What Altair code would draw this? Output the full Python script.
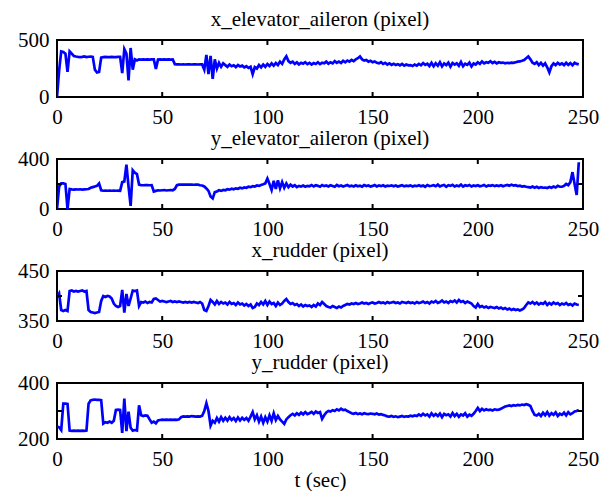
import altair as alt
import pandas as pd

# time axis (seconds)
T = list(range(249))

X_ELEV = [
    0, 230, 400, 395, 380, 220, 400, 380, 360, 355,
    352, 350, 352, 356, 350, 353, 355, 352, 240, 215,
    220, 345, 350, 352, 350, 350, 352, 350, 350, 352,
    352, 210, 420, 380, 145, 430, 240, 330, 320, 330,
    328, 330, 328, 330, 328, 330, 330, 245, 328, 330,
    328, 330, 328, 330, 328, 330, 288, 286, 286, 285,
    286, 285, 287, 286, 285, 286, 287, 285, 286, 286,
    240, 370, 200, 360, 160, 330, 250, 300, 265, 295,
    280, 265, 285, 270, 278, 262, 280, 268, 275, 260,
    270, 255, 265, 200, 262, 250, 280, 260, 285, 265,
    290, 272, 295, 275, 298, 280, 310, 290, 330, 357,
    315, 300, 310, 290, 305, 285, 300, 292, 305, 288,
    300, 285, 298, 290, 305, 288, 300, 295, 310, 292,
    305, 295, 315, 300, 310, 298, 318, 305, 320, 310,
    325, 315, 330, 340, 355, 330, 320, 325, 310, 318,
    305, 312, 300, 295, 305, 290, 300, 285, 295, 282,
    292, 280, 288, 278, 290, 275, 285, 278, 280, 272,
    285, 275, 290, 278, 298, 282, 292, 272, 300, 270,
    296, 274, 305, 268, 294, 280, 302, 266, 298, 284,
    296, 274, 308, 270, 292, 282, 302, 268, 294, 285,
    305, 290, 312, 295, 305, 300, 314, 298, 308, 295,
    305, 300, 302, 296, 300, 298, 302, 300, 305, 310,
    312, 318, 325, 340, 355, 330, 300, 290, 305, 280,
    300, 275, 295, 260, 215, 270, 295, 280, 300, 285,
    295, 280, 300, 282, 298, 278, 300, 290, 286,
]

Y_ELEV = [
    0, 180, 205, 205, 200, 0, 160, 157, 155, 157,
    156, 158, 155, 157, 158, 160, 170, 175, 180, 185,
    204, 150, 146, 147, 146, 148, 146, 147, 146, 147,
    146, 215, 220, 355, 180, 25, 310, 290, 280, 195,
    191, 190, 192, 191, 190, 191, 140, 145, 150, 148,
    150, 152, 148, 150, 152, 150, 160, 190, 195, 196,
    195, 196, 195, 196, 195, 194, 196, 195, 190, 188,
    180, 165, 145, 100, 85, 135, 140, 150, 145, 152,
    150, 158, 155, 162, 158, 165, 162, 170, 165, 172,
    170, 178, 175, 182, 180, 188, 185, 192, 198, 205,
    243, 200, 152, 225, 160, 230, 165, 215, 170, 205,
    175, 195, 180, 190, 175, 185, 180, 188, 178, 185,
    182, 192, 180, 190, 185, 178, 192, 183, 188, 180,
    190, 184, 178, 192, 182, 188, 180, 186, 192, 181,
    187, 180, 190, 182, 186, 179, 191, 184, 188, 180,
    185, 192, 181, 188, 183, 190, 180, 186, 184, 189,
    182, 188, 180, 185, 190, 181, 187, 183, 189, 180,
    186, 183, 190, 182, 188, 178, 192, 184, 186, 190,
    182, 195, 180, 188, 192, 178, 190, 185, 193, 180,
    188, 182, 195, 179, 190, 185, 192, 180, 188, 184,
    190, 182, 186, 192, 180, 188, 185, 191, 183, 189,
    184, 190, 182, 188, 192, 186, 195, 188, 190, 184,
    186, 180, 183, 178, 175, 172, 180, 170, 178, 168,
    175, 170, 172, 168, 176, 170, 180, 172, 185, 178,
    178, 185, 200, 190, 215, 295, 200, 112, 374,
]

X_RUD = [
    398, 405, 372, 370, 372, 370, 410, 411, 409, 410,
    409, 410, 411, 409, 410, 372, 368, 367, 366, 367,
    368, 390, 400, 398, 400, 399, 395, 385, 380, 378,
    380, 412, 367, 404, 380, 395, 411, 410, 411, 380,
    388, 387, 389, 386, 388, 387, 394, 395, 392, 389,
    390, 389, 388, 389, 390, 388, 389, 388, 389, 388,
    387, 388, 387, 388, 387, 388, 387, 386, 388, 385,
    372, 370, 380, 392, 388, 383, 390, 384, 388, 385,
    387, 383, 388, 384, 386, 382, 387, 383, 385, 381,
    384, 380, 383, 376, 378, 385, 382, 388, 383, 390,
    382, 389, 384, 386, 380, 387, 382, 385, 390, 394,
    388, 384, 386, 382, 384, 380, 383, 379, 382, 380,
    381, 378, 382, 379, 385, 382, 388, 384, 380, 378,
    377, 380, 378, 376, 379, 377, 380, 382, 384, 383,
    385, 384, 386, 384, 385, 387, 385, 386, 384, 386,
    387, 385, 386, 388, 386, 387, 385, 388, 386, 387,
    388, 386, 387, 385, 388, 387, 386, 388, 386, 387,
    385, 388, 386, 387, 389, 386, 388, 385, 389, 387,
    390, 386, 388, 391, 387, 389, 386, 390, 388, 391,
    387, 392, 388, 390, 386, 389, 387, 385, 380, 377,
    384, 378, 380, 377, 379, 376, 378, 377, 376, 378,
    375, 377, 374, 376, 373, 375, 372, 374, 372, 373,
    371, 373, 376, 382, 387, 385, 388, 384, 387, 383,
    386, 384, 388, 382, 386, 383, 387, 384, 386, 382,
    385, 383, 386, 382, 384, 381, 385, 383, 382,
]

Y_RUD = [
    245, 242, 232, 326, 326, 325, 230, 229, 230, 229,
    230, 229, 230, 229, 230, 326, 338, 340, 341, 340,
    340, 339, 255, 260, 258, 262, 258, 265, 304, 305,
    304, 222, 344, 228, 298, 240, 230, 232, 230, 320,
    285, 282, 284, 283, 270, 258, 262, 256, 266, 268,
    269, 268, 269, 268, 269, 268, 269, 268, 270, 278,
    281, 280, 281, 280, 282, 281, 280, 281, 280, 283,
    300, 328, 300, 248, 265, 258, 275, 262, 278, 265,
    276, 266, 278, 268, 275, 264, 277, 266, 276, 268,
    275, 265, 280, 296, 270, 285, 262, 280, 258, 278,
    262, 285, 265, 292, 268, 282, 270, 262, 254, 270,
    278, 285, 290, 284, 292, 286, 294, 288, 296, 289,
    292, 297, 290, 298, 293, 296, 272, 285, 295, 300,
    298, 303, 300, 306, 302, 308, 303, 305, 300, 296,
    292, 290, 293, 289, 291, 288, 292, 290, 289, 291,
    290, 288, 291, 287, 289, 286, 284, 281, 280, 282,
    279, 281, 278, 280, 282, 279, 281, 280, 283, 281,
    284, 282, 288, 283, 290, 284, 288, 280, 292, 283,
    289, 282, 291, 278, 290, 285, 288, 280, 293, 282,
    290, 279, 288, 284, 292, 280, 287, 283, 290, 300,
    311, 300, 308, 302, 306, 303, 305, 302, 306, 304,
    305, 308, 312, 316, 318, 320, 318, 321, 319, 322,
    320, 323, 321, 324, 322, 318, 300, 286, 284, 290,
    282, 294, 285, 296, 283, 292, 286, 295, 282, 290,
    286, 294, 284, 296, 288, 292, 298, 300, 304,
]

TITLES = [
    "x_elevator_aileron (pixel)",
    "y_elevator_aileron (pixel)",
    "x_rudder (pixel)",
    "y_rudder (pixel)",
]
SERIES = [X_ELEV, Y_ELEV, X_RUD, Y_RUD]
Y_DOMAINS = [[0, 500], [0, 400], [350, 450], [200, 400]]
Y_TICKS = [[0, 500], [0, 200, 400], [350, 400, 450], [200, 300, 400]]
X_DOMAIN = [0, 250]
X_TICKS = [0, 50, 100, 150, 200, 250]
X_LABEL = "t (sec)"

FONT = "Liberation Serif, Times New Roman, Times, serif"
BLUE = "#0000ff"
W = 526
HEIGHTS = [57, 50, 50, 56]
TL = 5  # inward tick length
FS = 21


def panel(i):
    H = HEIGHTS[i]
    xs = alt.Scale(domain=X_DOMAIN, nice=False, zero=False)
    ys = alt.Scale(domain=Y_DOMAINS[i], nice=False, zero=False)
    last = i == len(SERIES) - 1
    xaxis = alt.Axis(values=X_TICKS, title=X_LABEL if last else None,
                     labelFlush=False, titlePadding=0,
                     labelFont=FONT, titleFont=FONT)
    yaxis = alt.Axis(values=Y_TICKS[i], title=None, labelFlush=False,
                     labelFont=FONT)
    df = pd.DataFrame({"t": T, "v": SERIES[i]})
    line = alt.Chart(df).mark_line(color=BLUE, strokeWidth=2.7, clip=True).encode(
        x=alt.X("t:Q", scale=xs, axis=xaxis),
        y=alt.Y("v:Q", scale=ys, axis=yaxis),
    )
    inner_x = pd.DataFrame({"t": [v for v in X_TICKS if X_DOMAIN[0] < v < X_DOMAIN[1]]})
    layers = [line]
    for y0, y1 in [(0, TL), (H - TL, H)]:
        layers.append(
            alt.Chart(inner_x).mark_rule(color="black", strokeWidth=2).encode(
                x=alt.X("t:Q", scale=xs),
                y=alt.value(y0), y2=alt.value(y1),
            )
        )
    inner_y = [v for v in Y_TICKS[i] if Y_DOMAINS[i][0] < v < Y_DOMAINS[i][1]]
    if inner_y:
        ydf = pd.DataFrame({"v": inner_y})
        for x0, x1 in [(0, TL), (W - TL, W)]:
            layers.append(
                alt.Chart(ydf).mark_rule(color="black", strokeWidth=2).encode(
                    y=alt.Y("v:Q", scale=ys),
                    x=alt.value(x0), x2=alt.value(x1),
                )
            )
    return alt.layer(*layers).properties(
        width=W, height=H,
        title=alt.TitleParams(TITLES[i], frame="group", anchor="middle",
                              font=FONT, fontSize=FS, fontWeight="normal",
                              color="black", offset=-1),
    )


chart = (
    alt.vconcat(*[panel(i) for i in range(4)], spacing=62, bounds="flush")
    .properties(padding={"left": 8, "top": 0, "right": 0, "bottom": 0})
    .configure_view(stroke="black", strokeWidth=2)
    .configure_axis(domain=False, ticks=False, tickSize=0, grid=False,
                    labelFont=FONT, labelFontSize=FS, labelColor="black",
                    titleFont=FONT, titleFontSize=FS, titleFontWeight="normal",
                    titleColor="black")
    .configure_axisX(labelPadding=9)
    .configure_axisY(labelPadding=8)
    .configure_title(font=FONT, fontSize=FS, fontWeight="normal", color="black",
                     offset=-1)
)

chart.save("out.html", embed_options={"renderer": "svg", "actions": False})
